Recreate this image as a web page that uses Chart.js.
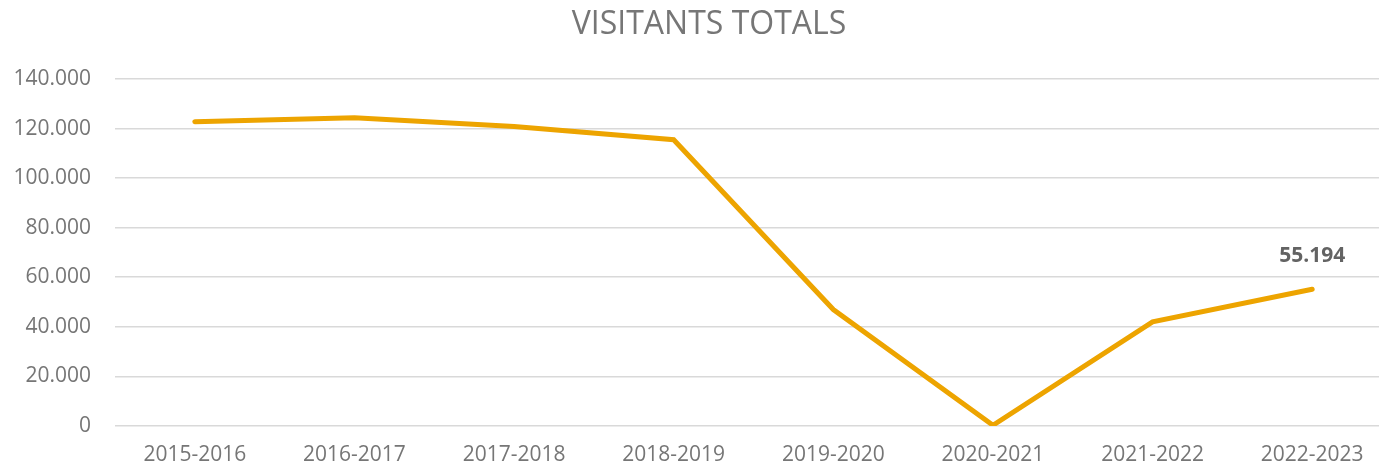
<!DOCTYPE html>
<html>
<head>
<meta charset="utf-8">
<script src="https://cdn.jsdelivr.net/npm/chart.js@4"></script>
<style>
  html, body { margin: 0; padding: 0; background: #fff; overflow: hidden; }
  #wrap { width: 1392px; height: 469px; }
</style>
</head>
<body>
<div id="wrap"><canvas id="visitChart"></canvas></div>
<script>
// Chart data
const SEASONS = ['2015-2016', '2016-2017', '2017-2018', '2018-2019', '2019-2020', '2020-2021', '2021-2022', '2022-2023'];
const VISITORS = [122800, 124400, 120800, 115500, 47000, 300, 42000, 55194];
const Y_TICKS = [0, 20000, 40000, 60000, 80000, 100000, 120000, 140000];
const TITLE = 'VISITANTS TOTALS';

const LINE_COLOR = '#EDA400';
const TEXT_GREY = '#767676';
const FONT = '"Open Sans", "Liberation Sans", sans-serif';

function formatDots(n) {
  return String(Math.round(n)).replace(/\B(?=(\d{3})+(?!\d))/g, '.');
}

// title (Excel centres it a bit right of the canvas middle) + label on last point
const extras = {
  id: 'extras',
  afterDraw(chart) {
    const ctx = chart.ctx;
    ctx.save();
    ctx.font = '32px ' + FONT;
    ctx.fillStyle = TEXT_GREY;
    ctx.textAlign = 'center';
    ctx.textBaseline = 'middle';
    ctx.fillText(TITLE, 709, 25);

    const meta = chart.getDatasetMeta(0);
    const i = VISITORS.length - 1;
    const pt = meta.data[i];
    ctx.font = 'bold 21px ' + FONT;
    ctx.fillStyle = '#636363';
    ctx.fillText(formatDots(VISITORS[i]), pt.x, pt.y - 33);
    ctx.restore();
  }
};

new Chart(document.getElementById('visitChart'), {
  type: 'line',
  data: {
    labels: SEASONS,
    datasets: [{
      data: VISITORS,
      borderColor: LINE_COLOR,
      borderWidth: 5,
      borderCapStyle: 'round',
      borderJoinStyle: 'miter',
      pointRadius: 0,
      tension: 0,
      fill: false,
    }],
  },
  options: {
    responsive: true,
    maintainAspectRatio: false,
    animation: false,
    layout: { padding: { top: 79, right: 0, bottom: 0, left: 0 } },
    plugins: {
      legend: { display: false },
      tooltip: { enabled: false },
      title: { display: false },
    },
    scales: {
      x: {
        offset: true,
        grid: { display: false, drawTicks: false },
        border: { display: false },
        ticks: { color: TEXT_GREY, font: { family: FONT, size: 21 }, padding: 16, maxRotation: 0 },
        afterFit: s => { s.height = 43; },
      },
      y: {
        min: 0,
        max: 140000,
        afterBuildTicks: s => { s.ticks = Y_TICKS.map(v => ({ value: v })); },
        grid: { color: '#d9d9d9', lineWidth: 1.6, drawTicks: false },
        border: { display: false },
        ticks: { color: TEXT_GREY, font: { family: FONT, size: 21 }, padding: 24, callback: v => formatDots(v) },
        afterFit: s => { s.width = 115; },
      },
    },
  },
  plugins: [extras],
});
</script>
</body>
</html>
